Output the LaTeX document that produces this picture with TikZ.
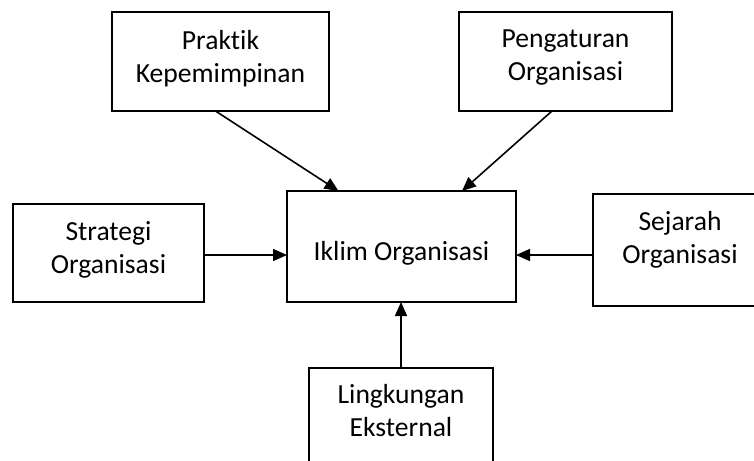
\documentclass[tikz,border=0pt]{standalone}
\usepackage{fontspec}
\setmainfont{Carlito}[Ligatures={NoCommon}]
\usetikzlibrary{arrows.meta,calc}
\begin{document}
\begin{tikzpicture}[x=1pt,y=-1pt,
  boxnode/.style={draw=black,line width=1.6pt,rectangle,inner sep=0pt,outer sep=0pt},
  txt/.style={align=center,inner sep=0pt,font=\fontsize{27.6}{33}\selectfont},
  arr/.style={line width=1.6pt,-{Triangle[length=14pt,width=12pt]}}]
\clip (0,0) rectangle (754,460);
\fill[white] (0,0) rectangle (754,460);
% boxes
\node[boxnode,minimum width=217pt,minimum height=99pt] (prak) at (220.5,61.5) {};
\node[boxnode,minimum width=213pt,minimum height=99pt] (peng) at (565.5,61.5) {};
\node[boxnode,minimum width=191pt,minimum height=98pt] (strat) at (108.5,253) {};
\node[boxnode,minimum width=229pt,minimum height=111pt] (ikl) at (401.5,246.5) {};
\node[boxnode,minimum width=174pt,minimum height=112pt] (sej) at (680,250) {};
\node[boxnode,minimum width=184pt,minimum height=102pt] (ling) at (401,419) {};
% texts
\node[txt] (prakt) at (220.5,58.5) {Praktik\\Kepemimpinan};
\node[txt] (pengt) at (565.5,58) {Pengaturan\\Organisasi};
\node[txt] (stratt) at (108.5,249.5) {Strategi\\Organisasi};
\node[txt] (iklt) at (401.5,253.5) {Iklim Organisasi};
\node[txt] (sejt) at (680,239.5) {Sejarah\\Organisasi};
\node[txt] (lingt) at (401,411) {Lingkungan\\Eksternal};
% connectors
\coordinate (ys) at (0,255);
\draw[arr] ($(prak.south)+(-5,0)$) -- ($(ikl.north)+(-63,0)$);
\draw[arr] ($(peng.south)+(-13.5,0)$) -- ($(ikl.north)+(60.5,0)$);
\draw[arr] (strat.east |- ys) -- (ikl.west |- ys);
\draw[arr] (sej.west |- ys) -- (ikl.east |- ys);
\draw[arr] (ling.north) -- (ling.north |- ikl.south);
\end{tikzpicture}
\end{document}
